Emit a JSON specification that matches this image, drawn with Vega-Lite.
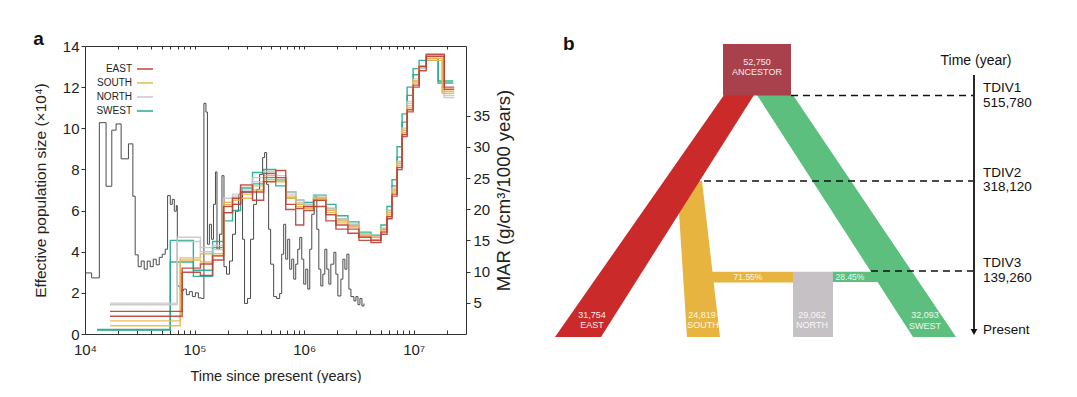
{
  "$schema": "https://vega.github.io/schema/vega-lite/v6.json",
  "background": "white",
  "padding": {"left": 32, "top": 29, "right": 0, "bottom": 0},
  "spacing": 27,
  "config": {
    "font": "Liberation Sans",
    "view": {"stroke": null},
    "axis": {"labelFont": "Liberation Sans", "titleFont": "Liberation Sans", "labelColor": "#222", "titleColor": "#222", "titleFontWeight": "normal", "tickColor": "#333", "grid": false, "domain": false},
    "title": {"fontSize": 19, "fontWeight": "bold", "anchor": "start", "color": "#111", "font": "Liberation Sans", "offset": -10, "baseline": "alphabetic"}
  },
  "datasets": {
    "psmc": [
      {"s":"W1","p":"SWEST","t":12900,"n":0.19},{"s":"W1","p":"SWEST","t":60000,"n":4.55},{"s":"W1","p":"SWEST","t":97500,"n":3.1},{"s":"W1","p":"SWEST","t":146000,"n":4.5},{"s":"W1","p":"SWEST","t":184000,"n":5.5},{"s":"W1","p":"SWEST","t":222000,"n":6.0},{"s":"W1","p":"SWEST","t":263000,"n":6.9},{"s":"W1","p":"SWEST","t":338000,"n":7.85},{"s":"W1","p":"SWEST","t":427000,"n":8.0},{"s":"W1","p":"SWEST","t":550000,"n":7.2},{"s":"W1","p":"SWEST","t":679000,"n":6.9},{"s":"W1","p":"SWEST","t":837000,"n":6.5},{"s":"W1","p":"SWEST","t":991000,"n":6.3},{"s":"W1","p":"SWEST","t":1220000,"n":6.75},{"s":"W1","p":"SWEST","t":1580000,"n":6.3},{"s":"W1","p":"SWEST","t":1950000,"n":5.75},{"s":"W1","p":"SWEST","t":2510000,"n":5.45},{"s":"W1","p":"SWEST","t":3160000,"n":4.95},{"s":"W1","p":"SWEST","t":4070000,"n":4.8},{"s":"W1","p":"SWEST","t":5020000,"n":5.3},{"s":"W1","p":"SWEST","t":5700000,"n":6.2},{"s":"W1","p":"SWEST","t":6340000,"n":7.5},{"s":"W1","p":"SWEST","t":7050000,"n":9.1},{"s":"W1","p":"SWEST","t":7830000,"n":10.7},{"s":"W1","p":"SWEST","t":8710000,"n":12.0},{"s":"W1","p":"SWEST","t":9880000,"n":12.9},{"s":"W1","p":"SWEST","t":11200000,"n":13.3},{"s":"W1","p":"SWEST","t":13000000,"n":13.4},{"s":"W1","p":"SWEST","t":16700000,"n":12.3},{"s":"W1","p":"SWEST","t":23000000,"n":12.3},
      {"s":"W2","p":"SWEST","t":12900,"n":0.22},{"s":"W2","p":"SWEST","t":60000,"n":3.5},{"s":"W2","p":"SWEST","t":97500,"n":2.8},{"s":"W2","p":"SWEST","t":146000,"n":4.2},{"s":"W2","p":"SWEST","t":184000,"n":5.9},{"s":"W2","p":"SWEST","t":222000,"n":6.3},{"s":"W2","p":"SWEST","t":263000,"n":7.1},{"s":"W2","p":"SWEST","t":338000,"n":7.3},{"s":"W2","p":"SWEST","t":427000,"n":7.6},{"s":"W2","p":"SWEST","t":550000,"n":7.5},{"s":"W2","p":"SWEST","t":679000,"n":6.6},{"s":"W2","p":"SWEST","t":837000,"n":6.3},{"s":"W2","p":"SWEST","t":991000,"n":6.4},{"s":"W2","p":"SWEST","t":1220000,"n":6.6},{"s":"W2","p":"SWEST","t":1580000,"n":6.1},{"s":"W2","p":"SWEST","t":1950000,"n":5.6},{"s":"W2","p":"SWEST","t":2510000,"n":5.3},{"s":"W2","p":"SWEST","t":3160000,"n":4.85},{"s":"W2","p":"SWEST","t":4070000,"n":4.7},{"s":"W2","p":"SWEST","t":5020000,"n":5.1},{"s":"W2","p":"SWEST","t":5700000,"n":6.0},{"s":"W2","p":"SWEST","t":6340000,"n":7.2},{"s":"W2","p":"SWEST","t":7050000,"n":8.6},{"s":"W2","p":"SWEST","t":7830000,"n":10.3},{"s":"W2","p":"SWEST","t":8710000,"n":11.6},{"s":"W2","p":"SWEST","t":9880000,"n":12.6},{"s":"W2","p":"SWEST","t":11200000,"n":13.0},{"s":"W2","p":"SWEST","t":13000000,"n":13.3},{"s":"W2","p":"SWEST","t":16700000,"n":12.2},{"s":"W2","p":"SWEST","t":23000000,"n":12.2},
      {"s":"N1","p":"NORTH","t":16900,"n":1.42},{"s":"N1","p":"NORTH","t":69500,"n":4.7},{"s":"N1","p":"NORTH","t":113000,"n":4.2},{"s":"N1","p":"NORTH","t":146000,"n":4.3},{"s":"N1","p":"NORTH","t":184000,"n":6.6},{"s":"N1","p":"NORTH","t":222000,"n":6.7},{"s":"N1","p":"NORTH","t":263000,"n":7.0},{"s":"N1","p":"NORTH","t":338000,"n":7.6},{"s":"N1","p":"NORTH","t":427000,"n":7.9},{"s":"N1","p":"NORTH","t":550000,"n":7.7},{"s":"N1","p":"NORTH","t":679000,"n":6.8},{"s":"N1","p":"NORTH","t":837000,"n":6.4},{"s":"N1","p":"NORTH","t":991000,"n":6.3},{"s":"N1","p":"NORTH","t":1220000,"n":6.7},{"s":"N1","p":"NORTH","t":1580000,"n":6.1},{"s":"N1","p":"NORTH","t":1950000,"n":5.6},{"s":"N1","p":"NORTH","t":2510000,"n":5.35},{"s":"N1","p":"NORTH","t":3160000,"n":4.85},{"s":"N1","p":"NORTH","t":4070000,"n":4.75},{"s":"N1","p":"NORTH","t":5020000,"n":5.15},{"s":"N1","p":"NORTH","t":5700000,"n":6.0},{"s":"N1","p":"NORTH","t":6340000,"n":7.1},{"s":"N1","p":"NORTH","t":7050000,"n":8.4},{"s":"N1","p":"NORTH","t":7830000,"n":10.0},{"s":"N1","p":"NORTH","t":8710000,"n":11.3},{"s":"N1","p":"NORTH","t":9880000,"n":12.4},{"s":"N1","p":"NORTH","t":11200000,"n":13.0},{"s":"N1","p":"NORTH","t":13000000,"n":13.5},{"s":"N1","p":"NORTH","t":19000000,"n":11.6},{"s":"N1","p":"NORTH","t":23500000,"n":11.6},
      {"s":"N2","p":"NORTH","t":16900,"n":1.5},{"s":"N2","p":"NORTH","t":69500,"n":4.5},{"s":"N2","p":"NORTH","t":113000,"n":4.0},{"s":"N2","p":"NORTH","t":146000,"n":4.1},{"s":"N2","p":"NORTH","t":184000,"n":6.4},{"s":"N2","p":"NORTH","t":222000,"n":6.8},{"s":"N2","p":"NORTH","t":263000,"n":7.2},{"s":"N2","p":"NORTH","t":338000,"n":7.4},{"s":"N2","p":"NORTH","t":427000,"n":7.7},{"s":"N2","p":"NORTH","t":550000,"n":7.6},{"s":"N2","p":"NORTH","t":679000,"n":6.9},{"s":"N2","p":"NORTH","t":837000,"n":6.5},{"s":"N2","p":"NORTH","t":991000,"n":6.2},{"s":"N2","p":"NORTH","t":1220000,"n":6.6},{"s":"N2","p":"NORTH","t":1580000,"n":6.0},{"s":"N2","p":"NORTH","t":1950000,"n":5.5},{"s":"N2","p":"NORTH","t":2510000,"n":5.3},{"s":"N2","p":"NORTH","t":3160000,"n":4.8},{"s":"N2","p":"NORTH","t":4070000,"n":4.7},{"s":"N2","p":"NORTH","t":5020000,"n":5.05},{"s":"N2","p":"NORTH","t":5700000,"n":5.9},{"s":"N2","p":"NORTH","t":6340000,"n":7.0},{"s":"N2","p":"NORTH","t":7050000,"n":8.3},{"s":"N2","p":"NORTH","t":7830000,"n":9.9},{"s":"N2","p":"NORTH","t":8710000,"n":11.2},{"s":"N2","p":"NORTH","t":9880000,"n":12.3},{"s":"N2","p":"NORTH","t":11200000,"n":12.9},{"s":"N2","p":"NORTH","t":13000000,"n":13.4},{"s":"N2","p":"NORTH","t":19000000,"n":11.5},{"s":"N2","p":"NORTH","t":23500000,"n":11.5},
      {"s":"S1","p":"SOUTH","t":16900,"n":0.64},{"s":"S1","p":"SOUTH","t":74000,"n":3.7},{"s":"S1","p":"SOUTH","t":113000,"n":3.9},{"s":"S1","p":"SOUTH","t":146000,"n":3.9},{"s":"S1","p":"SOUTH","t":184000,"n":6.3},{"s":"S1","p":"SOUTH","t":222000,"n":6.5},{"s":"S1","p":"SOUTH","t":263000,"n":6.6},{"s":"S1","p":"SOUTH","t":338000,"n":7.2},{"s":"S1","p":"SOUTH","t":427000,"n":7.5},{"s":"S1","p":"SOUTH","t":550000,"n":7.4},{"s":"S1","p":"SOUTH","t":679000,"n":6.6},{"s":"S1","p":"SOUTH","t":837000,"n":6.2},{"s":"S1","p":"SOUTH","t":991000,"n":6.1},{"s":"S1","p":"SOUTH","t":1220000,"n":6.5},{"s":"S1","p":"SOUTH","t":1580000,"n":6.0},{"s":"S1","p":"SOUTH","t":1950000,"n":5.5},{"s":"S1","p":"SOUTH","t":2510000,"n":5.2},{"s":"S1","p":"SOUTH","t":3160000,"n":4.8},{"s":"S1","p":"SOUTH","t":4070000,"n":4.7},{"s":"S1","p":"SOUTH","t":5020000,"n":5.1},{"s":"S1","p":"SOUTH","t":5700000,"n":5.9},{"s":"S1","p":"SOUTH","t":6340000,"n":7.0},{"s":"S1","p":"SOUTH","t":7050000,"n":8.3},{"s":"S1","p":"SOUTH","t":7830000,"n":9.9},{"s":"S1","p":"SOUTH","t":8710000,"n":11.1},{"s":"S1","p":"SOUTH","t":9880000,"n":12.3},{"s":"S1","p":"SOUTH","t":11200000,"n":13.0},{"s":"S1","p":"SOUTH","t":13000000,"n":13.4},{"s":"S1","p":"SOUTH","t":18200000,"n":11.8},{"s":"S1","p":"SOUTH","t":23500000,"n":11.8},
      {"s":"S2","p":"SOUTH","t":16900,"n":0.4},{"s":"S2","p":"SOUTH","t":74000,"n":3.6},{"s":"S2","p":"SOUTH","t":113000,"n":3.5},{"s":"S2","p":"SOUTH","t":146000,"n":3.8},{"s":"S2","p":"SOUTH","t":184000,"n":6.4},{"s":"S2","p":"SOUTH","t":222000,"n":6.6},{"s":"S2","p":"SOUTH","t":263000,"n":6.8},{"s":"S2","p":"SOUTH","t":338000,"n":7.0},{"s":"S2","p":"SOUTH","t":427000,"n":7.7},{"s":"S2","p":"SOUTH","t":550000,"n":7.5},{"s":"S2","p":"SOUTH","t":679000,"n":6.7},{"s":"S2","p":"SOUTH","t":837000,"n":6.3},{"s":"S2","p":"SOUTH","t":991000,"n":6.2},{"s":"S2","p":"SOUTH","t":1220000,"n":6.6},{"s":"S2","p":"SOUTH","t":1580000,"n":5.9},{"s":"S2","p":"SOUTH","t":1950000,"n":5.4},{"s":"S2","p":"SOUTH","t":2510000,"n":5.25},{"s":"S2","p":"SOUTH","t":3160000,"n":4.75},{"s":"S2","p":"SOUTH","t":4070000,"n":4.6},{"s":"S2","p":"SOUTH","t":5020000,"n":5.0},{"s":"S2","p":"SOUTH","t":5700000,"n":5.8},{"s":"S2","p":"SOUTH","t":6340000,"n":6.9},{"s":"S2","p":"SOUTH","t":7050000,"n":8.2},{"s":"S2","p":"SOUTH","t":7830000,"n":9.8},{"s":"S2","p":"SOUTH","t":8710000,"n":11.0},{"s":"S2","p":"SOUTH","t":9880000,"n":12.2},{"s":"S2","p":"SOUTH","t":11200000,"n":13.0},{"s":"S2","p":"SOUTH","t":13000000,"n":13.3},{"s":"S2","p":"SOUTH","t":18200000,"n":11.7},{"s":"S2","p":"SOUTH","t":23500000,"n":11.7},
      {"s":"E1","p":"EAST","t":16900,"n":1.1},{"s":"E1","p":"EAST","t":77000,"n":3.2},{"s":"E1","p":"EAST","t":113000,"n":3.4},{"s":"E1","p":"EAST","t":146000,"n":3.8},{"s":"E1","p":"EAST","t":184000,"n":6.2},{"s":"E1","p":"EAST","t":222000,"n":6.6},{"s":"E1","p":"EAST","t":263000,"n":7.25},{"s":"E1","p":"EAST","t":338000,"n":6.5},{"s":"E1","p":"EAST","t":427000,"n":7.4},{"s":"E1","p":"EAST","t":550000,"n":7.95},{"s":"E1","p":"EAST","t":679000,"n":6.05},{"s":"E1","p":"EAST","t":837000,"n":5.3},{"s":"E1","p":"EAST","t":991000,"n":6.0},{"s":"E1","p":"EAST","t":1220000,"n":6.2},{"s":"E1","p":"EAST","t":1580000,"n":5.5},{"s":"E1","p":"EAST","t":1950000,"n":5.1},{"s":"E1","p":"EAST","t":2510000,"n":4.9},{"s":"E1","p":"EAST","t":3160000,"n":4.55},{"s":"E1","p":"EAST","t":4070000,"n":4.45},{"s":"E1","p":"EAST","t":5020000,"n":4.85},{"s":"E1","p":"EAST","t":5700000,"n":5.6},{"s":"E1","p":"EAST","t":6340000,"n":6.7},{"s":"E1","p":"EAST","t":7050000,"n":8.0},{"s":"E1","p":"EAST","t":7830000,"n":9.6},{"s":"E1","p":"EAST","t":8710000,"n":10.8},{"s":"E1","p":"EAST","t":9880000,"n":12.0},{"s":"E1","p":"EAST","t":11200000,"n":12.8},{"s":"E1","p":"EAST","t":13000000,"n":13.6},{"s":"E1","p":"EAST","t":19000000,"n":11.9},{"s":"E1","p":"EAST","t":23400000,"n":11.9},
      {"s":"E2","p":"EAST","t":16900,"n":0.86},{"s":"E2","p":"EAST","t":77000,"n":3.0},{"s":"E2","p":"EAST","t":113000,"n":2.85},{"s":"E2","p":"EAST","t":146000,"n":3.6},{"s":"E2","p":"EAST","t":184000,"n":5.9},{"s":"E2","p":"EAST","t":222000,"n":6.3},{"s":"E2","p":"EAST","t":263000,"n":6.9},{"s":"E2","p":"EAST","t":338000,"n":6.9},{"s":"E2","p":"EAST","t":427000,"n":7.8},{"s":"E2","p":"EAST","t":550000,"n":7.6},{"s":"E2","p":"EAST","t":679000,"n":6.3},{"s":"E2","p":"EAST","t":837000,"n":6.1},{"s":"E2","p":"EAST","t":991000,"n":6.2},{"s":"E2","p":"EAST","t":1220000,"n":6.5},{"s":"E2","p":"EAST","t":1580000,"n":5.8},{"s":"E2","p":"EAST","t":1950000,"n":5.3},{"s":"E2","p":"EAST","t":2510000,"n":5.1},{"s":"E2","p":"EAST","t":3160000,"n":4.7},{"s":"E2","p":"EAST","t":4070000,"n":4.55},{"s":"E2","p":"EAST","t":5020000,"n":4.95},{"s":"E2","p":"EAST","t":5700000,"n":5.7},{"s":"E2","p":"EAST","t":6340000,"n":6.8},{"s":"E2","p":"EAST","t":7050000,"n":8.1},{"s":"E2","p":"EAST","t":7830000,"n":9.7},{"s":"E2","p":"EAST","t":8710000,"n":10.9},{"s":"E2","p":"EAST","t":9880000,"n":12.1},{"s":"E2","p":"EAST","t":11200000,"n":13.0},{"s":"E2","p":"EAST","t":13000000,"n":13.5},{"s":"E2","p":"EAST","t":19000000,"n":12.0},{"s":"E2","p":"EAST","t":23400000,"n":12.0}
    ],
    "mar": [
      {"t":10200,"m":9.8},{"t":11500,"m":9.0},{"t":13520,"m":33.9},{"t":15570,"m":23.7},{"t":17560,"m":32.7},{"t":19220,"m":33.7},{"t":21370,"m":28.1},{"t":24920,"m":30.5},{"t":27340,"m":22.1},{"t":28700,"m":12.7},{"t":30580,"m":10.8},{"t":32580,"m":11.7},{"t":34700,"m":10.4},{"t":36970,"m":11.7},{"t":39380,"m":10.8},{"t":41950,"m":12.0},{"t":44690,"m":11.1},{"t":47610,"m":12.3},{"t":50720,"m":12.8},{"t":54030,"m":13.6},{"t":56720,"m":22.2},{"t":60020,"m":20.8},{"t":62620,"m":21.6},{"t":65310,"m":19.7},{"t":68130,"m":20.6},{"t":69580,"m":7.7},{"t":74130,"m":6.9},{"t":78970,"m":7.2},{"t":84130,"m":6.3},{"t":89630,"m":6.8},{"t":95480,"m":6.0},{"t":101700,"m":6.6},{"t":108300,"m":5.8},{"t":115400,"m":5.7},{"t":121700,"m":37.0},{"t":126900,"m":35.6},{"t":131000,"m":14.4},{"t":136600,"m":17.6},{"t":142500,"m":15.2},{"t":148700,"m":20.8},{"t":155100,"m":26.0},{"t":160100,"m":13.6},{"t":168700,"m":16.0},{"t":177800,"m":25.4},{"t":185500,"m":10.8},{"t":195600,"m":9.6},{"t":208400,"m":11.7},{"t":221900,"m":16.0},{"t":236400,"m":19.7},{"t":251800,"m":22.4},{"t":262700,"m":23.2},{"t":274100,"m":15.2},{"t":285800,"m":4.9},{"t":304500,"m":5.7},{"t":324300,"m":15.2},{"t":345600,"m":20.8},{"t":368100,"m":23.2},{"t":392100,"m":25.6},{"t":417800,"m":28.3},{"t":435800,"m":29.1},{"t":454600,"m":24.0},{"t":474100,"m":16.8},{"t":494500,"m":11.2},{"t":526800,"m":6.0},{"t":561200,"m":5.7},{"t":597800,"m":6.5},{"t":623600,"m":12.8},{"t":650500,"m":17.6},{"t":678500,"m":12.0},{"t":707700,"m":15.2},{"t":738200,"m":10.4},{"t":770000,"m":12.0},{"t":803300,"m":8.8},{"t":837900,"m":11.2},{"t":874000,"m":13.6},{"t":911600,"m":15.5},{"t":950900,"m":12.0},{"t":991600,"m":8.0},{"t":1034400,"m":10.4},{"t":1079000,"m":7.2},{"t":1125000,"m":13.6},{"t":1174000,"m":19.2},{"t":1237000,"m":22.1},{"t":1305000,"m":16.8},{"t":1361000,"m":10.4},{"t":1419000,"m":7.7},{"t":1481000,"m":9.6},{"t":1544000,"m":13.6},{"t":1611000,"m":10.4},{"t":1680000,"m":8.0},{"t":1752000,"m":11.2},{"t":1866000,"m":13.1},{"t":1947000,"m":9.6},{"t":2031000,"m":6.1},{"t":2164000,"m":8.8},{"t":2257000,"m":12.0},{"t":2354000,"m":10.4},{"t":2456000,"m":12.8},{"t":2561000,"m":7.2},{"t":2672000,"m":6.0},{"t":2846000,"m":5.3},{"t":2969000,"m":6.0},{"t":3097000,"m":4.7},{"t":3229000,"m":5.7},{"t":3369000,"m":4.5},{"t":3514000,"m":4.9}
    ]
  },
  "hconcat": [
    {
      "title": {"text": "a", "frame": "bounds"},
      "width": 381,
      "height": 288,
      "view": {"stroke": "#333", "strokeWidth": 1},
      "layer": [
        {
          "data": {"name": "mar"},
          "mark": {"type": "line", "interpolate": "step-after", "color": "#4a4a4a", "strokeWidth": 1},
          "encoding": {
            "x": {"field": "t", "type": "quantitative", "scale": {"type": "log", "domain": [10000, 30000000], "nice": false},
              "axis": {"orient": "top", "values": [20000,30000,40000,50000,60000,70000,80000,90000,100000,200000,300000,400000,500000,600000,700000,800000,900000,1000000,2000000,3000000,4000000,5000000,6000000,7000000,8000000,9000000,10000000,20000000], "labels": false, "title": null, "tickSize": -3}},
            "y": {"field": "m", "type": "quantitative", "scale": {"domain": [0, 46.2], "nice": false},
              "axis": {"orient": "right", "values": [5,10,15,20,25,30,35], "tickSize": 4, "labelPadding": 3, "labelFontSize": 15, "title": "MAR (g/cm³/1000 years)", "titleAngle": 270, "titleBaseline": "top", "titleFontSize": 18.5, "titlePadding": 5}}
          }
        },
        {
          "data": {"name": "psmc"},
          "mark": {"type": "line", "interpolate": "step-after", "strokeWidth": 1.4, "opacity": 0.9},
          "encoding": {
            "x": {"field": "t", "type": "quantitative", "scale": {"type": "log", "domain": [10000, 30000000], "nice": false},
              "axis": {"orient": "bottom", "values": [10000,20000,30000,40000,50000,60000,70000,80000,90000,100000,200000,300000,400000,500000,600000,700000,800000,900000,1000000,2000000,3000000,4000000,5000000,6000000,7000000,8000000,9000000,10000000,20000000],
                "labelExpr": "datum.value == 10000 ? '10⁴' : datum.value == 100000 ? '10⁵' : datum.value == 1000000 ? '10⁶' : datum.value == 10000000 ? '10⁷' : ''",
                "tickSize": -4, "labelFlush": false, "labelFontSize": 15, "labelPadding": 12, "title": "Time since present (years)", "titleFontSize": 14.5, "titlePadding": 12}},
            "y": {"field": "n", "type": "quantitative", "scale": {"domain": [0, 14], "nice": false},
              "axis": {"orient": "left", "values": [0,2,4,6,8,10,12,14], "tickSize": 4, "labelPadding": 2, "labelFontSize": 15, "title": "Effective population size (×10⁴)", "titleFontSize": 15.5, "titlePadding": 14}},
            "color": {"field": "p", "type": "nominal",
              "scale": {"domain": ["EAST","SOUTH","NORTH","SWEST"], "range": ["#bd3f37","#e8b54a","#c9c4c9","#1fa98c"]},
              "legend": {"title": null, "orient": "none", "legendX": 51, "legendY": 14, "symbolType": "stroke", "symbolSize": 256, "symbolStrokeWidth": 1.6, "labelFontSize": 10, "labelAlign": "right", "labelOffset": -22, "rowPadding": -8, "labelColor": "#222", "labelFont": "Liberation Sans"}},
            "detail": {"field": "s"}
          }
        }
      ],
      "resolve": {"scale": {"y": "independent"}, "axis": {"x": "independent"}}
    },
    {
      "title": {"text": "b", "frame": "group", "dx": 22},
      "width": 500,
      "height": 288,
      "view": {"stroke": null},
      "layer": [
        {
          "data": {"values": [{"y": 181, "x": 136, "x2": 161}, {"y": 337, "x": 146, "x2": 179}]},
          "mark": {"type": "area", "orient": "horizontal", "color": "#e6b43f", "opacity": 1},
          "encoding": {
            "y": {"field": "y", "type": "quantitative", "scale": {"domain": [46, 334], "reverse": true, "nice": false, "zero": false}, "axis": null},
            "x": {"field": "x", "type": "quantitative", "scale": {"domain": [0, 500], "nice": false, "zero": false}, "axis": null},
            "x2": {"field": "x2"}
          }
        },
        {
          "data": {"values": [{"x": 168, "x2": 252, "y": 271.7, "y2": 282.5}]},
          "mark": {"type": "rect", "color": "#e6b43f"},
          "encoding": {
            "x": {"field": "x", "type": "quantitative", "axis": null}, "x2": {"field": "x2"},
            "y": {"field": "y", "type": "quantitative", "axis": null}, "y2": {"field": "y2"}
          }
        },
        {
          "data": {"values": [{"x": 252, "x2": 292, "y": 271.7, "y2": 337}]},
          "mark": {"type": "rect", "color": "#c6c1c4"},
          "encoding": {
            "x": {"field": "x", "type": "quantitative", "axis": null}, "x2": {"field": "x2"},
            "y": {"field": "y", "type": "quantitative", "axis": null}, "y2": {"field": "y2"}
          }
        },
        {
          "data": {"values": [{"x": 292, "x2": 340, "y": 271.7, "y2": 282}]},
          "mark": {"type": "rect", "color": "#5cbf7e"},
          "encoding": {
            "x": {"field": "x", "type": "quantitative", "axis": null}, "x2": {"field": "x2"},
            "y": {"field": "y", "type": "quantitative", "axis": null}, "y2": {"field": "y2"}
          }
        },
        {
          "data": {"values": [{"y": 95, "x": 216, "x2": 252}, {"y": 337, "x": 372, "x2": 415}]},
          "mark": {"type": "area", "orient": "horizontal", "color": "#5cbf7e", "opacity": 1},
          "encoding": {
            "y": {"field": "y", "type": "quantitative", "axis": null},
            "x": {"field": "x", "type": "quantitative", "axis": null},
            "x2": {"field": "x2"}
          }
        },
        {
          "data": {"values": [{"y": 95, "x": 183, "x2": 213}, {"y": 337, "x": 14, "x2": 60}]},
          "mark": {"type": "area", "orient": "horizontal", "color": "#cb2a2b", "opacity": 1},
          "encoding": {
            "y": {"field": "y", "type": "quantitative", "axis": null},
            "x": {"field": "x", "type": "quantitative", "axis": null},
            "x2": {"field": "x2"}
          }
        },
        {
          "data": {"values": [{"x": 182, "x2": 250, "y": 44, "y2": 95.5}]},
          "mark": {"type": "rect", "color": "#a8414b"},
          "encoding": {
            "x": {"field": "x", "type": "quantitative", "axis": null}, "x2": {"field": "x2"},
            "y": {"field": "y", "type": "quantitative", "axis": null}, "y2": {"field": "y2"}
          }
        },
        {
          "data": {"values": [{"x": 250, "x2": 432, "y": 95.5}, {"x": 163, "x2": 432, "y": 181}, {"x": 330, "x2": 432, "y": 271}]},
          "mark": {"type": "rule", "color": "#111", "strokeWidth": 1.6, "strokeDash": [7, 5]},
          "encoding": {
            "x": {"field": "x", "type": "quantitative", "axis": null}, "x2": {"field": "x2"},
            "y": {"field": "y", "type": "quantitative", "axis": null}
          }
        },
        {
          "data": {"values": [{"x": 433, "y": 75, "y2": 331}]},
          "mark": {"type": "rule", "color": "#111", "strokeWidth": 1.8},
          "encoding": {
            "x": {"field": "x", "type": "quantitative", "axis": null},
            "y": {"field": "y", "type": "quantitative", "axis": null}, "y2": {"field": "y2"}
          }
        },
        {
          "data": {"values": [{"x": 433, "y": 332}]},
          "mark": {"type": "point", "shape": "triangle-down", "filled": true, "color": "#111", "size": 45, "opacity": 1},
          "encoding": {
            "x": {"field": "x", "type": "quantitative", "axis": null},
            "y": {"field": "y", "type": "quantitative", "axis": null}
          }
        },
        {
          "data": {"values": [
            {"x": 216, "y": 62, "label": "52,750"}, {"x": 216, "y": 72, "label": "ANCESTOR"},
            {"x": 51, "y": 315, "label": "31,754"}, {"x": 51, "y": 325, "label": "EAST"},
            {"x": 161, "y": 315, "label": "24,819"}, {"x": 162, "y": 325, "label": "SOUTH"},
            {"x": 271, "y": 315, "label": "29,062"}, {"x": 271, "y": 325, "label": "NORTH"},
            {"x": 384, "y": 315, "label": "32,093"}, {"x": 384, "y": 326, "label": "SWEST"}
          ]},
          "mark": {"type": "text", "color": "white", "opacity": 0.9, "fontSize": 9, "align": "center", "baseline": "middle", "font": "Liberation Sans"},
          "encoding": {
            "x": {"field": "x", "type": "quantitative", "axis": null},
            "y": {"field": "y", "type": "quantitative", "axis": null},
            "text": {"field": "label"}
          }
        },
        {
          "data": {"values": [{"x": 207, "y": 277, "label": "71.55%"}, {"x": 309, "y": 277, "label": "28.45%"}]},
          "mark": {"type": "text", "color": "white", "opacity": 0.9, "fontSize": 8.5, "align": "center", "baseline": "middle", "font": "Liberation Sans"},
          "encoding": {
            "x": {"field": "x", "type": "quantitative", "axis": null},
            "y": {"field": "y", "type": "quantitative", "axis": null},
            "text": {"field": "label"}
          }
        },
        {
          "data": {"values": [{"x": 435, "y": 61, "label": "Time (year)"}]},
          "mark": {"type": "text", "color": "#111", "fontSize": 14, "align": "center", "baseline": "middle", "font": "Liberation Sans"},
          "encoding": {
            "x": {"field": "x", "type": "quantitative", "axis": null},
            "y": {"field": "y", "type": "quantitative", "axis": null},
            "text": {"field": "label"}
          }
        },
        {
          "data": {"values": [
            {"x": 442, "y": 88, "label": "TDIV1"}, {"x": 442, "y": 103, "label": "515,780"},
            {"x": 442, "y": 173, "label": "TDIV2"}, {"x": 442, "y": 187, "label": "318,120"},
            {"x": 442, "y": 263, "label": "TDIV3"}, {"x": 442, "y": 278, "label": "139,260"},
            {"x": 442, "y": 330, "label": "Present"}
          ]},
          "mark": {"type": "text", "color": "#111", "fontSize": 13.5, "align": "left", "baseline": "middle", "font": "Liberation Sans"},
          "encoding": {
            "x": {"field": "x", "type": "quantitative", "axis": null},
            "y": {"field": "y", "type": "quantitative", "axis": null},
            "text": {"field": "label"}
          }
        }
      ]
    }
  ]
}
